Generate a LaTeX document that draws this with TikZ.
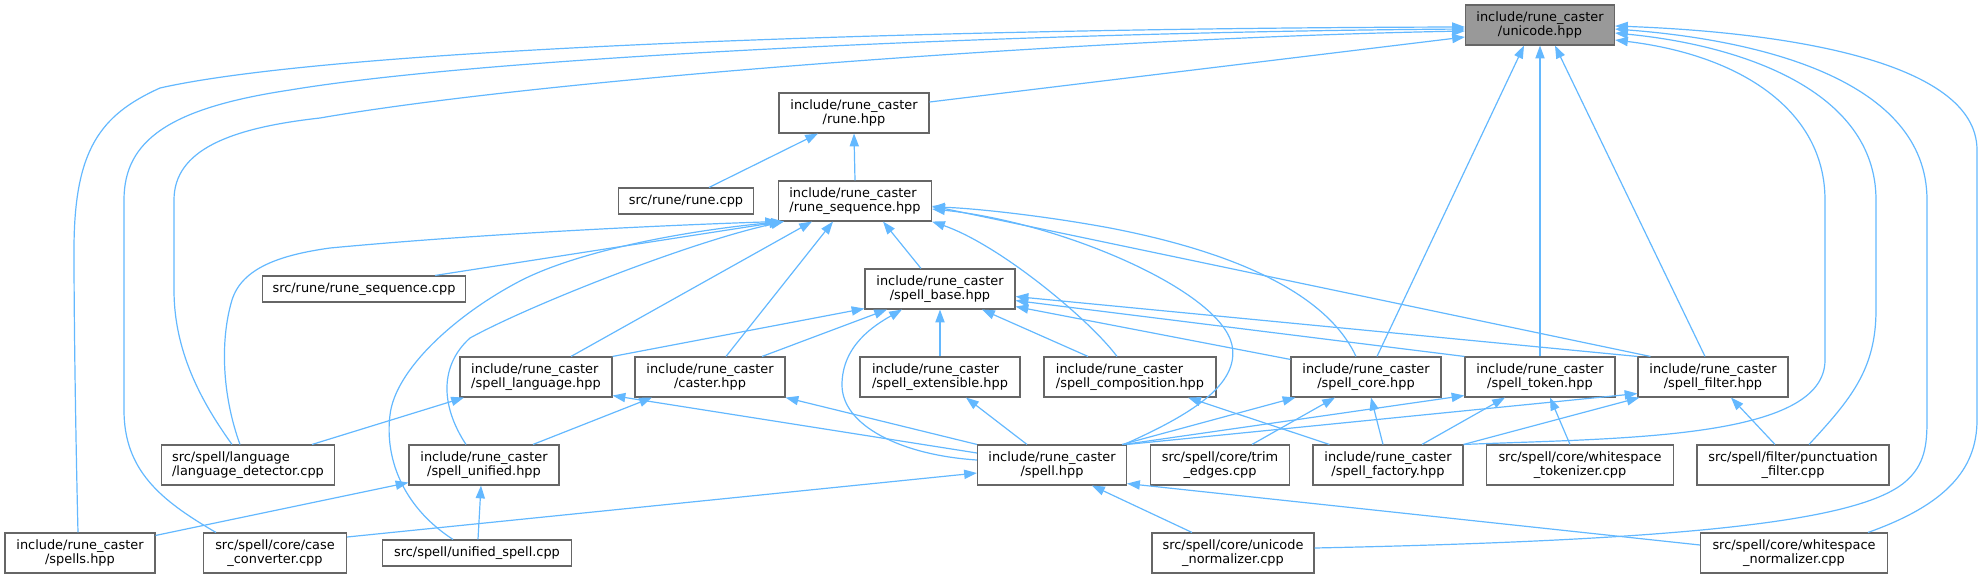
\documentclass[tikz,border=0pt]{standalone}
\usepackage{fontspec}
\setmainfont{DejaVu Sans}
\usetikzlibrary{arrows.meta}
\definecolor{edgeblue}{HTML}{63B8FF}
\definecolor{boxline}{HTML}{666666}
\definecolor{rootfill}{HTML}{999999}
\newcommand{\doxfont}{\fontsize{6.45pt}{7.15pt}\selectfont}

\begin{document}
\begin{tikzpicture}[x=0.5pt,y=-0.5pt,
  filebox/.style={draw=boxline,fill=white,line width=0.55pt,inner sep=0pt,
    minimum width={#1*0.5pt},minimum height=20pt,font=\doxfont,align=center},
  onebox/.style={filebox=#1,minimum height=13pt},
  inc/.style={draw=edgeblue,line width=0.6pt,-{Triangle[length=6.4pt,width=4.6pt]}}]
\useasboundingbox (0,0) rectangle (1983,579);

\node[filebox=149,fill=rootfill] at (1540,25) (uni) {include/rune\_caster\\/unicode.hpp};
\node[filebox=150] at (854,113) (rune) {include/rune\_caster\\/rune.hpp};
\node[onebox=135] at (686,201) (runecpp) {src/rune/rune.cpp};
\node[filebox=153,align=left] at (855,201) (rseq) {include/rune\_caster\\/rune\_sequence.hpp};
\node[onebox=203] at (364,289) (rseqcpp) {src/rune/rune\_sequence.cpp};
\node[filebox=150] at (940,289) (sbase) {include/rune\_caster\\/spell\_base.hpp};
\node[filebox=152,align=left] at (536,377) (slang) {include/rune\_caster\\/spell\_language.hpp};
\node[filebox=150] at (710,377) (caster) {include/rune\_caster\\/caster.hpp};
\node[filebox=160,align=left] at (940,377) (sext) {include/rune\_caster\\/spell\_extensible.hpp};
\node[filebox=172,align=left] at (1130,377) (scomp) {include/rune\_caster\\/spell\_composition.hpp};
\node[filebox=150] at (1366,377) (score) {include/rune\_caster\\/spell\_core.hpp};
\node[filebox=150] at (1540,377) (stoken) {include/rune\_caster\\/spell\_token.hpp};
\node[filebox=150] at (1713,377) (sfilter) {include/rune\_caster\\/spell\_filter.hpp};
\node[filebox=173,align=left] at (248,465) (ldet) {src/spell/language\\/language\_detector.cpp};
\node[filebox=150] at (484,465) (sunif) {include/rune\_caster\\/spell\_unified.hpp};
\node[filebox=149] at (1052,465) (spell) {include/rune\_caster\\/spell.hpp};
\node[filebox=139] at (1220,465) (trim) {src/spell/core/trim\\\_edges.cpp};
\node[filebox=150] at (1388,465) (sfact) {include/rune\_caster\\/spell\_factory.hpp};
\node[filebox=187] at (1580,465) (wstok) {src/spell/core/whitespace\\\_tokenizer.cpp};
\node[filebox=192] at (1793,465) (punct) {src/spell/filter/punctuation\\\_filter.cpp};
\node[filebox=150] at (80,553) (spells) {include/rune\_caster\\/spells.hpp};
\node[filebox=143] at (275,553) (casec) {src/spell/core/case\\\_converter.cpp};
\node[onebox=189] at (477,553) (unispell) {src/spell/unified\_spell.cpp};
\node[filebox=162] at (1233,553) (uninorm) {src/spell/core/unicode\\\_normalizer.cpp};
\node[filebox=187] at (1794,553) (wsnorm) {src/spell/core/whitespace\\\_normalizer.cpp};

\draw[inc] ([shift={(0,-11)}]rune.east) -- ([shift={(0,12)}]uni.west);
\draw[inc] ([shift={(23,0)}]runecpp.north) -- ([shift={(-36,0)}]rune.south);
\draw[inc] (rseq.north) -- (rune.south);

\draw[inc] ([shift={(71,0)}]rseqcpp.north) -- ([shift={(4,0)}]rseq.south west);
\draw[inc] ([shift={(-8,0)}]ldet.north) .. controls (222,395) and (220,340) .. (232,300) .. controls (242,268) and (280,255) .. (330,248) .. controls (500,232) and (700,224) .. (rseq.south west);
\draw[inc] ([shift={(-24,0)}]unispell.north) .. controls (400,505) and (385,455) .. (390,415) .. controls (395,370) and (455,315) .. (520,281) .. controls (580,250) and (690,230) .. ([shift={(6,0)}]rseq.south west);
\draw[inc] ([shift={(-18,0)}]sunif.north) .. controls (440,405) and (440,365) .. (470,338) .. controls (530,305) and (690,242) .. ([shift={(6,0)}]rseq.south west);
\draw[inc] ([shift={(35,0)}]slang.north) -- ([shift={(-43,0)}]rseq.south);
\draw[inc] ([shift={(16,0)}]caster.north) -- ([shift={(-22,0)}]rseq.south);
\draw[inc] ([shift={(-19,0)}]sbase.north) -- ([shift={(28,0)}]rseq.south);
\draw[inc] ([shift={(-13,0)}]scomp.north) .. controls (1090,320) and (1000,245) .. (rseq.south east);
\draw[inc] ([shift={(-3,0)}]spell.north east) .. controls (1190,415) and (1240,385) .. (1232,345) .. controls (1220,290) and (1060,222) .. ([shift={(0,8)}]rseq.east);
\draw[inc] ([shift={(-10,0)}]score.north) .. controls (1330,300) and (1250,255) .. (1110,228) .. controls (1040,215) and (970,208) .. ([shift={(0,6)}]rseq.east);
\draw[inc] ([shift={(13,0)}]sfilter.north west) -- ([shift={(0,5)}]rseq.east);

\draw[inc] (slang.north east) -- ([shift={(0,-1)}]sbase.south west);
\draw[inc] ([shift={(52,0)}]caster.north) -- ([shift={(-53,0)}]sbase.south);
\draw[inc] ([shift={(0,-5)}]spell.west) .. controls (900,455) and (842,425) .. (842,385) .. controls (842,345) and (875,325) .. ([shift={(-38,0)}]sbase.south);
\draw[inc] (sext.north) -- (sbase.south);
\draw[inc] ([shift={(-42,0)}]scomp.north) -- ([shift={(42,0)}]sbase.south);
\draw[inc] ([shift={(0,3)}]score.north west) -- ([shift={(0,-3)}]sbase.south east);
\draw[inc] (stoken.north west) -- ([shift={(0,-9)}]sbase.south east);
\draw[inc] (sfilter.north west) -- ([shift={(0,-13)}]sbase.south east);

\draw[inc] ([shift={(11,0)}]score.north) -- ([shift={(-16,0)}]uni.south);
\draw[inc] (stoken.north) -- (uni.south);
\draw[inc] ([shift={(-8,0)}]sfilter.north) -- ([shift={(15,0)}]uni.south);
\draw[inc] ([shift={(-2,0)}]spells.north) .. controls (76,450) and (74,330) .. (74,250) .. controls (74,150) and (100,115) .. (160,88) .. controls (350,45) and (1000,28) .. ([shift={(0,2)}]uni.west);
\draw[inc] ([shift={(-59,0)}]casec.north) .. controls (160,500) and (124,470) .. (124,410) -- (124,200) .. controls (124,140) and (170,108) .. (290,90) .. controls (500,55) and (1050,32) .. ([shift={(0,4)}]uni.west);
\draw[inc] ([shift={(-16,0)}]ldet.north) .. controls (200,400) and (174,350) .. (174,290) -- (174,200) .. controls (174,150) and (230,128) .. (320,118) .. controls (550,78) and (1100,38) .. ([shift={(0,6)}]uni.west);
\draw[inc] (sfact.north east) .. controls (1620,438) and (1825,440) .. (1825,360) -- (1825,200) .. controls (1825,110) and (1740,55) .. ([shift={(0,15)}]uni.east);
\draw[inc] ([shift={(16,0)}]punct.north) .. controls (1850,400) and (1876,370) .. (1876,310) -- (1876,200) .. controls (1876,90) and (1740,45) .. ([shift={(0,8)}]uni.east);
\draw[inc] ([shift={(0,-5)}]uninorm.east) .. controls (1700,540) and (1860,520) .. (1905,482) .. controls (1925,465) and (1927,445) .. (1927,420) -- (1927,200) .. controls (1927,80) and (1760,40) .. ([shift={(0,4)}]uni.east);
\draw[inc] ([shift={(74,0)}]wsnorm.north) .. controls (1945,505) and (1977,470) .. (1977,420) -- (1977,150) .. controls (1977,60) and (1780,32) .. ([shift={(0,1)}]uni.east);

\draw[inc] ([shift={(0,-16)}]casec.east) -- ([shift={(0,8)}]spell.west);
\draw[inc] ([shift={(-41,0)}]uninorm.north) -- ([shift={(40,0)}]spell.south);
\draw[inc] ([shift={(0,-8)}]wsnorm.west) -- ([shift={(0,-2)}]spell.south east);

\draw[inc] ([shift={(0,-12)}]spell.west) -- ([shift={(0,-2)}]slang.south east);
\draw[inc] (spell.north west) -- (caster.south east);
\draw[inc] ([shift={(-25,0)}]spell.north) -- ([shift={(26,0)}]sext.south);
\draw[inc] ([shift={(-5,0)}]spell.north east) -- ([shift={(5,0)}]score.south west);
\draw[inc] ([shift={(-3,0)}]spell.north east) -- ([shift={(0,-2)}]stoken.south west);
\draw[inc] (spell.north east) -- ([shift={(0,-4)}]sfilter.south west);

\draw[inc] ([shift={(0,3)}]spells.north east) -- ([shift={(0,-3)}]sunif.south west);
\draw[inc] ([shift={(1,0)}]unispell.north) -- ([shift={(-3,0)}]sunif.south);
\draw[inc] ([shift={(49,0)}]sunif.north) -- ([shift={(-58,0)}]caster.south);
\draw[inc] ([shift={(64,0)}]ldet.north) -- ([shift={(-72,0)}]slang.south);

\draw[inc] ([shift={(32,0)}]trim.north) -- ([shift={(-31,0)}]score.south);
\draw[inc] ([shift={(-5,0)}]sfact.north) -- ([shift={(5,0)}]score.south);
\draw[inc] ([shift={(34,0)}]sfact.north) -- ([shift={(-35,0)}]stoken.south);
\draw[inc] (sfact.north east) -- ([shift={(2,0)}]sfilter.south west);
\draw[inc] ([shift={(17,0)}]sfact.north west) -- ([shift={(58,0)}]scomp.south);
\draw[inc] ([shift={(-10,0)}]wstok.north) -- ([shift={(10,0)}]stoken.south);
\draw[inc] ([shift={(-18,0)}]punct.north) -- ([shift={(18,0)}]sfilter.south);
\end{tikzpicture}
\end{document}
